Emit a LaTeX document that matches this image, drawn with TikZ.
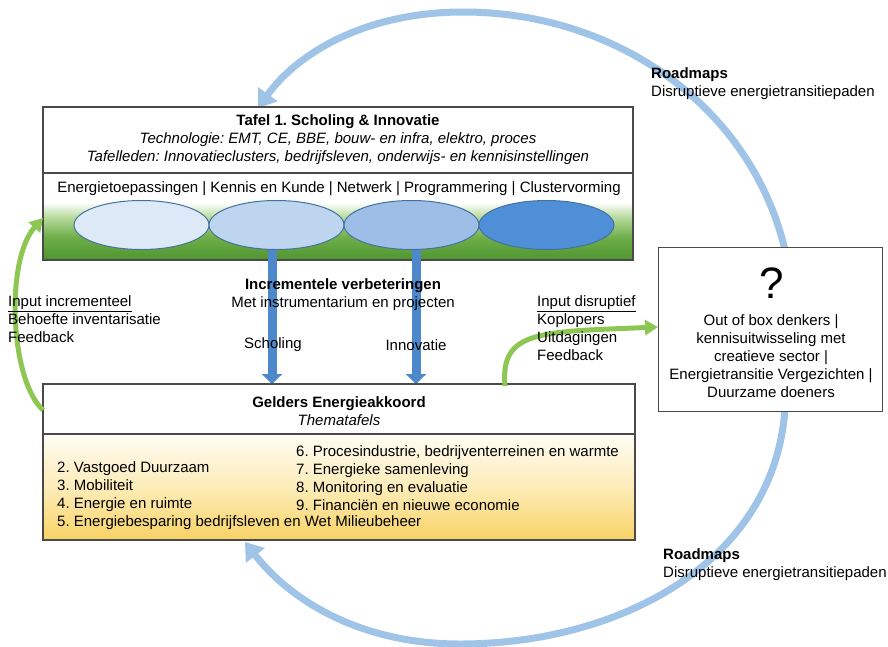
\documentclass[tikz,border=0pt]{standalone}
\usepackage{fontspec}
\setmainfont{Liberation Sans}
\usetikzlibrary{arrows.meta,shapes.geometric,calc}
\frenchspacing
\definecolor{boxline}{HTML}{4A4A4A}
\definecolor{eA}{HTML}{DDE9F6}
\definecolor{eB}{HTML}{BED5EF}
\definecolor{eC}{HTML}{9DBFE7}
\definecolor{eD}{HTML}{4F8FD7}
\definecolor{ellline}{HTML}{44729E}
\definecolor{gbot}{HTML}{4E9530}
\definecolor{gmid}{HTML}{6FAE48}
\definecolor{glight}{HTML}{B9DCA0}
\definecolor{ytop}{HTML}{FFFDF5}
\definecolor{ymid}{HTML}{FCECB8}
\definecolor{ybot}{HTML}{F8D264}
\definecolor{barrow}{HTML}{4D89CA}
\definecolor{garrow}{HTML}{8DC653}
\definecolor{arcblue}{HTML}{9FC4E7}
\pgfdeclareverticalshading{greenfade}{100bp}{color(0bp)=(gbot); color(25bp)=(gbot); color(38bp)=(gmid); color(50bp)=(glight); color(58bp)=(white); color(100bp)=(white)}
\pgfdeclareverticalshading{yellowfade}{100bp}{color(0bp)=(ybot); color(25bp)=(ybot); color(50bp)=(ymid); color(75bp)=(ytop); color(100bp)=(ytop)}
\begin{document}
\begin{tikzpicture}[x=1pt,y=-1pt,
  font=\fontsize{15}{18}\selectfont\frenchspacing,
  boxstyle/.style={draw=boxline, line width=1.1pt},
  ell/.style={ellipse, draw=ellline, line width=1pt, minimum width=135pt, minimum height=49pt, inner sep=0pt},
  txt/.style={inner sep=0pt, align=center},
  ltxt/.style={inner sep=0pt, align=left, anchor=west},
  downarrow/.style={line width=9pt, draw=barrow, -{Triangle[length=10pt,width=20pt]}},
  greenarrow/.style={line width=5pt, draw=garrow, -{Triangle[length=13pt,width=15pt]}},
  arcarrow/.style={line width=7pt, draw=arcblue, -{Triangle[length=17pt,width=23pt]}}]
\useasboundingbox[fill=white] (0,0) rectangle (888,646);

% big arcs (behind boxes)
\coordinate (arcTopStart) at (785,250);
\coordinate (arcTopEnd) at (258,108);
\coordinate (arcBotStart) at (785,408);
\coordinate (arcBotEnd) at (245,542);
\draw[arcarrow] (arcTopStart) .. controls (752,110) and (620,12) .. (463,12) .. controls (370,12) and (300,50) .. (arcTopEnd);
\draw[arcarrow] (arcBotStart) .. controls (775,562) and (620,644) .. (460,644) .. controls (360,644) and (290,600) .. (arcBotEnd);

% top box
\node[boxstyle, fill=white, minimum width=590pt, minimum height=153pt, anchor=north west, inner sep=0pt] (tbox) at (43,107) {};
\shade[shading=greenfade] (43,173) rectangle (633,260);
\draw[boxstyle] (43,107) rectangle (633,260);
\draw[boxstyle] (43,173) -- (633,173);
\node[txt] (ttitle) at (338,140) {\textbf{Tafel 1. Scholing \& Innovatie}\\ \textit{Technologie: EMT, CE, BBE, bouw- en infra, elektro, proces}\\ \textit{Tafelleden: Innovatieclusters, bedrijfsleven, onderwijs- en kennisinstellingen}};
\node[txt] (tlist) at (339,189) {Energietoepassingen | Kennis en Kunde | Netwerk | Programmering | Clustervorming};

% blue down arrows
\coordinate (sA) at (272,246);
\coordinate (sAe) at (272,384);
\coordinate (sB) at (416,246);
\coordinate (sBe) at (416,384);
\draw[downarrow] (sA) -- (sAe);
\draw[downarrow] (sB) -- (sBe);

% ellipses
\node[ell, fill=eA] (e1) at (141.5,225) {};
\node[ell, fill=eB] (e2) at (276.5,225) {};
\node[ell, fill=eC] (e3) at (411.5,225) {};
\node[ell, fill=eD] (e4) at (546.5,225) {};

% right box
\node[boxstyle, fill=white, minimum width=224pt, minimum height=164pt, anchor=north west, inner sep=0pt] (rbox) at (658,247) {};
\node[txt] (qmark) at (772,283) {\fontsize{44}{44}\selectfont ?};
\node[txt] (rtext) at (771,356) {Out of box denkers |\\kennisuitwisseling met\\creatieve sector |\\Energietransitie Vergezichten |\\Duurzame doeners};

% bottom box
\node[boxstyle, fill=white, minimum width=592pt, minimum height=156pt, anchor=north west, inner sep=0pt] (bbox) at (43,384) {};
\shade[shading=yellowfade] (43,434) rectangle (635,540);
\draw[boxstyle] (43,384) rectangle (635,540);
\draw[boxstyle] (43,434) -- (635,434);
\node[txt] (btitle) at (339,411) {\textbf{Gelders Energieakkoord}\\\textit{Thematafels}};
\node[ltxt] (lcol) at (57,496) {2. Vastgoed Duurzaam\\3. Mobiliteit\\4. Energie en ruimte\\5. Energiebesparing bedrijfsleven en Wet Milieubeheer};
\node[ltxt] (rcol) at (296,478) {6. Procesindustrie, bedrijventerreinen en warmte\\7. Energieke samenleving\\8. Monitoring en evaluatie\\9. Financiën en nieuwe economie};

% green arrows
\coordinate (gLs) at (43,410);
\coordinate (gLe) at (43,218);
\coordinate (gRs) at (505,386);
\coordinate (gRe) at (658,327);
\draw[greenarrow] (gLs) .. controls (10,380) and (5,260) .. (gLe);
\draw[greenarrow] (gRs) .. controls (500,330) and (540,332) .. (gRe);

% middle texts
\node[txt] (inc) at (343,295) {\textbf{Incrementele verbeteringen}\\Met instrumentarium en projecten};
\node[txt] (scho) at (273,345) {Scholing};
\node[txt] (inno) at (416,345) {Innovatie};
\node[ltxt] (inl) at (8,319) {\underline{Input incrementeel}\\Behoefte inventarisatie\\Feedback};
\node[ltxt] (inr) at (537,328) {\underline{Input disruptief}\\Koplopers\\Uitdagingen\\Feedback};

% roadmaps labels
\node[ltxt] (rmA) at (651,84) {\textbf{Roadmaps}\\Disruptieve energietransitiepaden};
\node[ltxt] (rmB) at (663,565) {\textbf{Roadmaps}\\Disruptieve energietransitiepaden};
\end{tikzpicture}
\end{document}
